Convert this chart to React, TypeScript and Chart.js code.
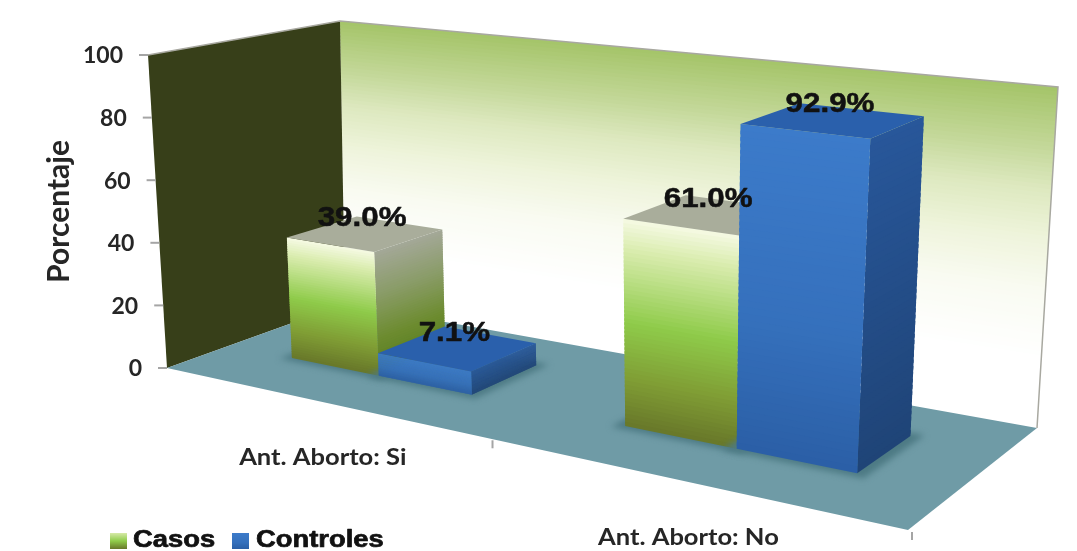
import React, { useEffect, useRef } from "react";
import { Chart, registerables } from "chart.js";

Chart.register(...registerables);

const categories = ["Ant. Aborto: Si", "Ant. Aborto: No"];
const casos = [39.0, 61.0];
const controles = [7.1, 92.9];
const seriesNames = ["Casos", "Controles"];

type Pt = [number, number];
type Stop = [number, string];

// Corners of the 3D box on the page: floor plane and ceiling plane.
const floorQuad: Pt[] = [[167, 368], [908, 530], [1037, 428], [345, 304]];
const ceilQuad: Pt[] = [[148, 55], [932, 147], [1058, 87], [340, 21]];
const depthRange: [number, number] = [0.33, 0.72];

function squareToQuad(q: Pt[]) {
  const [[x0, y0], [x1, y1], [x2, y2], [x3, y3]] = q;
  const dx1 = x1 - x2, dx2 = x3 - x2, sx = x0 - x1 + x2 - x3;
  const dy1 = y1 - y2, dy2 = y3 - y2, sy = y0 - y1 + y2 - y3;
  const den = dx1 * dy2 - dx2 * dy1;
  const g = (sx * dy2 - dx2 * sy) / den;
  const h = (dx1 * sy - sx * dy1) / den;
  const a = x1 - x0 + g * x1, b = x3 - x0 + h * x3;
  const d = y1 - y0 + g * y1, e = y3 - y0 + h * y3;
  return (u: number, t: number): Pt => {
    const w = 1 + g * u + h * t;
    return [(a * u + b * t + x0) / w, (d * u + e * t + y0) / w];
  };
}
const floorMap = squareToQuad(floorQuad);
const ceilMap = squareToQuad(ceilQuad);

// u: along the category axis, v: along the value axis, d: depth into the box.
function project(u: number, v: number, d: number): Pt {
  const a = floorMap(u, d), b = ceilMap(u, d);
  return [a[0] + (b[0] - a[0]) * v, a[1] + (b[1] - a[1]) * v];
}

const hexRgb = (h: string) => [1, 3, 5].map((i) => parseInt(h.slice(i, i + 2), 16));
function ramp(stops: Stop[], t: number) {
  for (let i = 1; i < stops.length; i++) {
    if (t <= stops[i][0]) {
      const [t0, c0] = stops[i - 1], [t1, c1] = stops[i];
      const f = t1 === t0 ? 0 : (t - t0) / (t1 - t0);
      const A = hexRgb(c0), B = hexRgb(c1);
      return `rgb(${A.map((x, k) => Math.round(x + (B[k] - x) * f)).join(",")})`;
    }
  }
  return stops[stops.length - 1][1];
}

function poly(ctx: CanvasRenderingContext2D, pts: Pt[], fill: string) {
  ctx.fillStyle = fill;
  ctx.beginPath();
  pts.forEach((p, i) => (i ? ctx.lineTo(p[0], p[1]) : ctx.moveTo(p[0], p[1])));
  ctx.closePath();
  ctx.fill();
}

// Fills a quad top-to-bottom in thin strips so the shading follows its skew.
function shade(ctx: CanvasRenderingContext2D, tl: Pt, tr: Pt, br: Pt, bl: Pt, stops: Stop[], n = 50) {
  const mix = (a: Pt, b: Pt, t: number): Pt => [a[0] + (b[0] - a[0]) * t, a[1] + (b[1] - a[1]) * t];
  for (let i = 0; i < n; i++) {
    const t0 = i / n, t1 = Math.min(1, (i + 1.6) / n);
    poly(ctx, [mix(tl, bl, t0), mix(tr, br, t0), mix(tr, br, t1), mix(tl, bl, t1)], ramp(stops, (i + 0.5) / n));
  }
}

function stretched(ctx: CanvasRenderingContext2D, text: string, x: number, y: number, font: string, color: string, sx: number, align: CanvasTextAlign, heavy = 0) {
  ctx.save();
  ctx.font = font;
  ctx.fillStyle = color;
  ctx.textAlign = align;
  ctx.textBaseline = "middle";
  ctx.translate(x, y);
  ctx.scale(sx, 1);
  if (heavy) {
    ctx.strokeStyle = color;
    ctx.lineWidth = heavy;
    ctx.lineJoin = "round";
    ctx.strokeText(text, 0, 0);
  }
  ctx.fillText(text, 0, 0);
  ctx.restore();
}

const wallStops: Stop[] = [[0, "#a4c468"], [0.18, "#c4d89a"], [0.3, "#dde8bf"], [0.45, "#eff4dc"], [0.6, "#f9fbf2"], [0.8, "#ffffff"], [1, "#ffffff"]];
const faces = [
  {
    front: [[0, "#f6fae4"], [0.15, "#d9ecae"], [0.5, "#8fcb4a"], [0.78, "#7f9c34"], [1, "#68772a"]] as Stop[],
    side: [[0, "#a4a898"], [0.35, "#8a9c68"], [0.7, "#6d8c30"], [1, "#557a1e"]] as Stop[],
    top: "#a9ad9b",
  },
  {
    front: [[0, "#3c7bca"], [0.6, "#3570bc"], [1, "#2b5fa6"]] as Stop[],
    side: [[0, "#28579a"], [1, "#1f4477"]] as Stop[],
    top: "#2a60ac",
  },
];

const box3d = {
  id: "box3d",
  beforeDatasetsDraw(chart: any) {
    const ctx: CanvasRenderingContext2D = chart.ctx;
    const area = chart.chartArea;
    const yScale = chart.scales.y;
    const xScale = chart.scales.x;
    const vOf = (val: number) => (area.bottom - yScale.getPixelForValue(val)) / area.height;

    ctx.save();
    // back wall, side wall, floor
    shade(ctx, project(0, 1, 1), project(1, 1, 1), project(1, 0, 1), project(0, 0, 1), wallStops, 80);
    poly(ctx, [project(0, 1, 0), project(0, 1, 1), project(0, 0, 1), project(0, 0, 0)], "#373f19");
    poly(ctx, [project(0, 0, 0), project(1, 0, 0), project(1, 0, 1), project(0, 0, 1)], "#6f9ba6");

    ctx.strokeStyle = "#a8a8a0";
    ctx.lineWidth = 1.5;
    ctx.beginPath();
    const rim = [project(0, 1, 0), project(0, 1, 1), project(1, 1, 1), project(1, 0, 1)];
    rim.forEach((p, i) => (i ? ctx.lineTo(p[0], p[1]) : ctx.moveTo(p[0], p[1])));
    ctx.stroke();

    // value axis ticks and labels along the front edge of the side wall
    ctx.strokeStyle = "#a5a5a5";
    ctx.lineWidth = 2;
    yScale.ticks.forEach((t: any) => {
      const p = project(0, vOf(t.value), 0);
      ctx.beginPath();
      ctx.moveTo(p[0] - 9, p[1]);
      ctx.lineTo(p[0], p[1]);
      ctx.stroke();
      stretched(ctx, String(t.value), p[0] - 25, p[1] + 1, "bold 23px Lato", "#262626", 1, "right");
    });

    // category axis ticks and labels under the front edge of the floor
    const xs = [0.5, 1];
    xs.forEach((u) => {
      const p = project(u, 0, 0);
      ctx.beginPath();
      ctx.moveTo(p[0] + 4, p[1] + 2);
      ctx.lineTo(p[0] + 4, p[1] + 10);
      ctx.stroke();
    });
    categories.forEach((c, i) => {
      const u = (xScale.getPixelForValue(i) - area.left) / area.width;
      const p = project(u, 0, 0);
      stretched(ctx, c, p[0] + 5, p[1] + 57, "bold 22px Lato", "#262626", 1.16, "center");
    });
    ctx.restore();
  },
  afterDatasetsDraw(chart: any) {
    const ctx: CanvasRenderingContext2D = chart.ctx;
    const area = chart.chartArea;
    const [d0, d1] = depthRange;
    const labels: [string, Pt][] = [];

    categories.forEach((_, j) => {
      chart.data.datasets.forEach((ds: any, i: number) => {
        const el = chart.getDatasetMeta(i).data[j];
        const u0 = (el.x - el.width / 2 - area.left) / area.width;
        const u1 = (el.x + el.width / 2 - area.left) / area.width;
        const v = (area.bottom - el.y) / area.height;
        const f = faces[i];

        // soft contact shadow on the floor
        ctx.save();
        ctx.filter = "blur(3px)";
        poly(ctx, [project(u0 - 0.012, 0, d0 - 0.03), project(u1 + 0.012, 0, d0 - 0.03), project(u1 + 0.012, 0, d1 + 0.03), project(u0 - 0.012, 0, d1 + 0.03)], "#4d7a84");
        ctx.restore();

        shade(ctx, project(u1, v, d0), project(u1, v, d1), project(u1, 0, d1), project(u1, 0, d0), f.side);
        shade(ctx, project(u0, v, d0), project(u1, v, d0), project(u1, 0, d0), project(u0, 0, d0), f.front);
        poly(ctx, [project(u0, v, d0), project(u1, v, d0), project(u1, v, d1), project(u0, v, d1)], f.top);

        const c = project((u0 + u1) / 2, v, (d0 + d1) / 2);
        labels.push([`${ds.data[j].toFixed(1)}%`, [c[0] - 3, c[1] - 15]]);
      });
    });

    labels.forEach(([text, p]) => stretched(ctx, text, p[0], p[1], "bold 27px 'Liberation Sans'", "#111111", 1.16, "center", 0.5));

    // legend along the bottom left
    const swatchX = [110, 232];
    const textX = [133, 256];
    seriesNames.forEach((name, i) => {
      const sw = faces[i].front;
      shade(ctx, [swatchX[i], 533], [swatchX[i] + 17, 533], [swatchX[i] + 17, 549], [swatchX[i], 549], i === 0 ? [[0, "#d6eaa8"], [0.5, "#8fcb4a"], [1, "#68772a"]] : sw, 16);
      stretched(ctx, name, textX[i], 540, "bold 24px 'Liberation Sans'", "#111111", 1.14, "left", 0.7);
    });
  },
};

export default function App() {
  const ref = useRef<HTMLCanvasElement>(null);
  useEffect(() => {
    const chart = new Chart(ref.current as HTMLCanvasElement, {
      type: "bar",
      data: {
        labels: categories,
        datasets: [
          { label: seriesNames[0], data: casos, backgroundColor: "transparent", borderWidth: 0 },
          { label: seriesNames[1], data: controles, backgroundColor: "transparent", borderWidth: 0 },
        ],
      },
      options: {
        responsive: false,
        animation: false,
        layout: { padding: { left: 41, right: 169, top: 55, bottom: 183 } },
        plugins: { legend: { display: false }, tooltip: { enabled: false } },
        datasets: { bar: { categoryPercentage: 0.57, barPercentage: 1 } },
        scales: {
          x: { display: false, grid: { display: false } },
          y: {
            min: 0,
            max: 100,
            ticks: { stepSize: 20, display: false },
            grid: { display: false, drawTicks: false },
            border: { display: false },
            title: {
              display: true,
              text: "Porcentaje",
              color: "#262626",
              font: { family: "Lato", weight: "bold", size: 30 },
              padding: { top: 0, bottom: 70 },
            },
          },
        },
      },
      plugins: [box3d],
    } as any);
    return () => chart.destroy();
  }, []);
  return (
    <canvas
      ref={ref}
      width={1077}
      height={551}
      style={{ position: "absolute", left: 0, top: 0, display: "block" }}
    />
  );
}
